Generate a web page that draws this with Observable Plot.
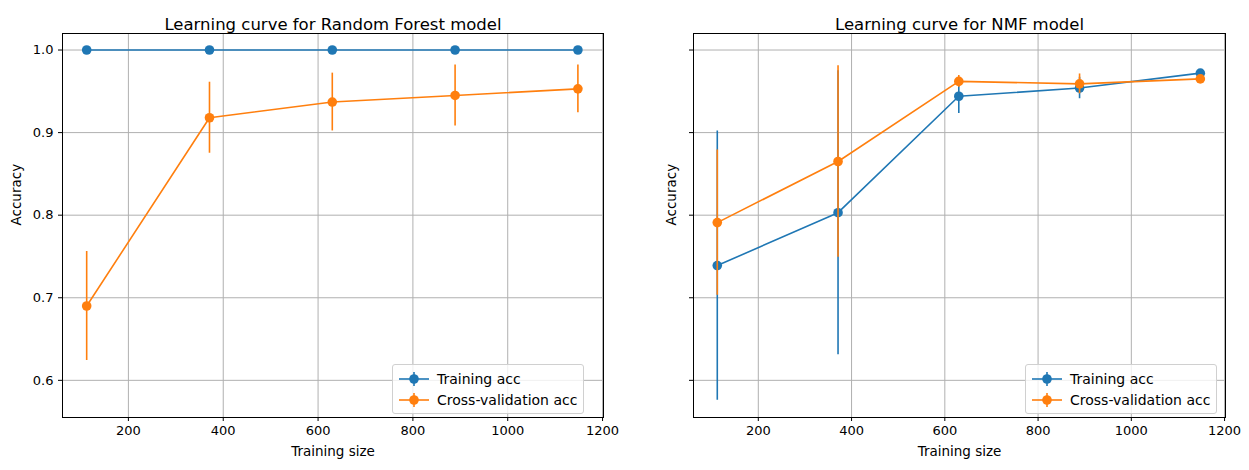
<!DOCTYPE html>
<html>
<head>
<meta charset="utf-8">
<script src="https://cdn.jsdelivr.net/npm/d3@7"></script>
<script src="https://cdn.jsdelivr.net/npm/@observablehq/plot@0.6"></script>
<style>
  body { margin: 0; background: #fff; font-family: "DejaVu Sans", sans-serif; }
  #wrap { display: flex; width: 1249px; height: 470px; }
  .panel { position: relative; }
  .legend { position: absolute; background: rgba(255,255,255,0.8); border: 1px solid #d0d0d0; border-radius: 3px;
            font: 14px "DejaVu Sans", sans-serif; padding: 3px 6px; }
  .legend div { display: flex; align-items: center; height: 21px; }
  .legend svg { margin-right: 8px; }
</style>
</head>
<body>
<div id="wrap"><div class="panel" id="p1"></div><div class="panel" id="p2"></div></div>
<script>
// tailles d'entrainement
const sizes = [112, 371, 630, 889, 1148];

// Random Forest
const rfTrain = [1.0, 1.0, 1.0, 1.0, 1.0];
const rfTrainStd = [0, 0, 0, 0, 0];
const rfCv = [0.690, 0.918, 0.937, 0.945, 0.953];
const rfCvStd = [0.066, 0.043, 0.035, 0.037, 0.029];

// NMF
const nmfTrain = [0.739, 0.803, 0.944, 0.954, 0.972];
const nmfTrainStd = [0.163, 0.172, 0.021, 0.013, 0.003];
const nmfCv = [0.791, 0.865, 0.962, 0.959, 0.965];
const nmfCvStd = [0.088, 0.116, 0.007, 0.012, 0.003];

const blue = "#1f77b4", orange = "#ff7f0e";

function rows(mean, std) {
  return sizes.map((s, i) => ({x: s, y: mean[i], lo: mean[i] - std[i], hi: mean[i] + std[i]}));
}

function curve(title, train, trainStd, cv, cvStd, opts) {
  const tr = rows(train, trainStd), va = rows(cv, cvStd);
  const series = [[tr, blue], [va, orange]];
  const marks = [
    Plot.gridX([200, 400, 600, 800, 1000, 1200], {stroke: "#b0b0b0", strokeOpacity: 1}),
    Plot.gridY([0.6, 0.7, 0.8, 0.9, 1.0], {stroke: "#b0b0b0", strokeOpacity: 1}),
    Plot.axisX([200, 400, 600, 800, 1000, 1200], {tickSize: 4, fontSize: 13, label: null, tickPadding: 4,
      tickFormat: d3.format("d")}),
    Plot.axisY([0.6, 0.7, 0.8, 0.9, 1.0], {tickSize: 4, fontSize: 13, label: null,
      tickFormat: opts.showY ? d3.format(".1f") : () => ""}),
    Plot.frame({stroke: "#000"}),
    Plot.text([title], {frameAnchor: "top", dy: -15, fontSize: 16.5, text: d => d}),
    Plot.text(["Training size"], {frameAnchor: "bottom", dy: 38, fontSize: 13.5, text: d => d}),
    Plot.text(["Accuracy"], {frameAnchor: "left", dx: opts.ylabelDx, rotate: -90, fontSize: 13.5, text: d => d})
  ];
  for (const [d, c] of series) {
    marks.push(Plot.ruleX(d, {x: "x", y1: "lo", y2: "hi", stroke: c, strokeWidth: 1.6}));
    marks.push(Plot.line(d, {x: "x", y: "y", stroke: c, strokeWidth: 1.6}));
    marks.push(Plot.dot(d, {x: "x", y: "y", fill: c, r: 4.8}));
  }
  return Plot.plot({
    width: opts.width, height: 470,
    marginLeft: opts.ml, marginRight: opts.mr, marginTop: 33, marginBottom: 53,
    style: {fontFamily: "DejaVu Sans, sans-serif", color: "#000", background: "#fff"},
    x: {domain: [61, 1202]},
    y: {domain: [0.555, 1.020]},
    marks
  });
}

function legend(el, left, top) {
  const lg = document.createElement("div");
  lg.className = "legend";
  lg.style.left = left + "px"; lg.style.top = top + "px";
  for (const [label, c] of [["Training acc", blue], ["Cross-validation acc", orange]]) {
    lg.insertAdjacentHTML("beforeend",
      `<div><svg width="30" height="14"><line x1="0" x2="30" y1="7" y2="7" stroke="${c}" stroke-width="1.6"/>` +
      `<line x1="15" x2="15" y1="0" y2="14" stroke="${c}" stroke-width="1.6"/><circle cx="15" cy="7" r="4.8" fill="${c}"/></svg>${label}</div>`);
  }
  el.appendChild(lg);
}

const p1 = document.getElementById("p1"), p2 = document.getElementById("p2");
p1.appendChild(curve("Learning curve for Random Forest model", rfTrain, rfTrainStd, rfCv, rfCvStd,
  {width: 625, ml: 62, mr: 22, showY: true, ylabelDx: -46}));
p2.appendChild(curve("Learning curve for NMF model", nmfTrain, nmfTrainStd, nmfCv, nmfCvStd,
  {width: 624, ml: 68, mr: 24, showY: false, ylabelDx: -22}));
legend(p1, 392, 364);
legend(p2, 400, 364);
</script>
</body>
</html>
